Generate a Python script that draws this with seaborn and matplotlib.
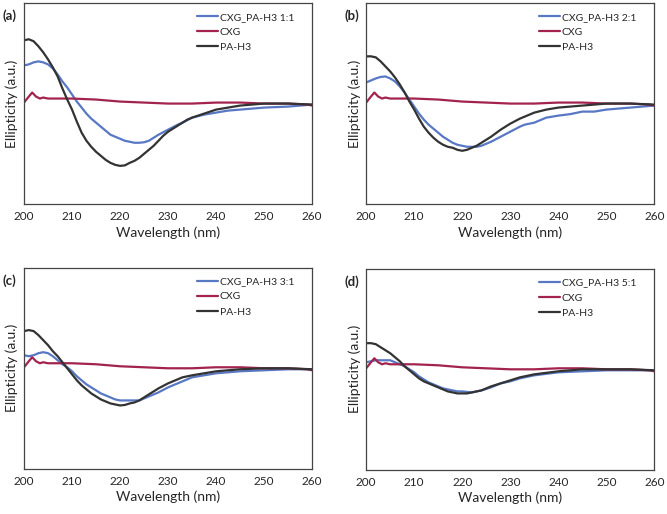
#!/usr/bin/env python3

import pandas as pd
import seaborn as sns
import matplotlib.pyplot as plt

# CD spectra, arbitrary units (0 = baseline)
cxg_nm = [200, 201, 201.7, 202.5, 203.3, 204, 205, 207, 210, 215, 220, 225,
          230, 235, 240, 245, 250, 255, 259, 260]
cxg_val = [1, 7, 11, 7, 5, 6, 5, 5, 5, 4, 2, 1, 0, 0, 1, 1, 0, 0, -1, -2]

wl = [200, 201, 202, 203, 204, 205, 206, 207, 208, 209,
      210, 211, 212, 213, 214, 215, 216, 217, 218, 219,
      220, 221, 222, 223, 224, 225, 226, 227, 228, 229,
      230, 231, 232, 233, 234, 235,
      237.5, 240, 242.5, 245, 247.5, 250, 255, 260]

# panel (a) 1:1
mix_a = [38, 39, 41, 42, 41, 39, 35, 29, 22, 16,
         9, 2, -4, -10, -15, -19, -23, -27, -31, -33,
         -35, -37, -38, -39, -39, -38.5, -37, -34, -31, -28.5,
         -26, -23.5, -21, -19, -16.5, -14,
         -11, -9, -7, -6, -5, -4, -3, -1]
pa_a = [63, 64, 62, 57, 51, 44, 36, 27, 15, 4,
        -6, -18, -29, -37, -43, -48, -52, -56, -59, -61,
        -62, -61.5, -59, -57, -54, -50, -46, -42, -37, -32,
        -28, -25, -22, -19, -16, -14,
        -10, -6, -4, -2, -1, 0, 0, -1]

# panel (b) 2:1
mix_b = [21, 23, 25, 26.5, 27, 25, 22, 17, 11, 4,
         -3, -10, -16, -21, -25, -29, -33, -36, -39, -41,
         -42, -43, -43, -43, -42, -40, -38, -35.5, -33, -30.5,
         -28, -25.5, -23, -21, -20, -19,
         -14, -12, -10.5, -8, -8, -6, -4, -2]
pa_b = [47, 47, 46, 42, 37, 32, 26, 19, 11, 2,
        -6, -15, -23, -29, -34, -38, -41, -43, -44, -46,
        -47, -46, -44, -42, -39, -36, -33, -29.5, -26, -23,
        -20, -17.5, -15, -13, -11, -9,
        -6, -4, -3, -2, -1, 0, 0, -1]

# panel (c) 3:1
mix_c = [13, 12, 13, 15, 16, 15, 12, 8, 4, 1,
         -3, -8, -12, -16, -19, -22, -25, -27, -29, -31,
         -32, -32, -32, -32, -32, -30, -28, -26, -24, -21.5,
         -19, -17, -15, -13, -11, -9,
         -7, -5, -4, -3, -2.5, -2, -1, -1]
pa_c = [37, 38, 37, 33, 28, 23, 17, 12, 6, 0,
        -6, -12, -17, -21, -25, -28, -31, -33, -35, -36,
        -37, -36.5, -35, -34, -32, -29, -26, -23, -20, -17.5,
        -15, -13, -11, -9, -8, -7,
        -5, -3, -2, -1, -0.5, 0, 0, -1]

# panel (d) 5:1
mix_d = [7, 8, 9, 9, 9, 9, 7, 5, 3, 0,
         -3, -7, -10, -13, -15, -17, -19, -20, -21, -22,
         -22, -22.5, -23, -22, -21, -19.5, -18, -16, -14, -13,
         -12, -10.5, -9, -8, -7, -6,
         -4.5, -3, -2.5, -2, -1.5, -1, -1, -1]
pa_d = [26, 26, 25, 22, 19, 16, 12, 8, 3, -1,
        -5, -9, -12, -14, -16, -18, -20, -22, -23, -24,
        -24, -24, -23, -22, -21, -19, -17, -15.5, -14, -12.5,
        -11, -9.5, -8, -7, -6, -5,
        -3.5, -2, -1, 0, 0, 0, 0, -1]

panels = ["a", "b", "c", "d"]
ratios = ["1:1", "2:1", "3:1", "5:1"]
mixes = [mix_a, mix_b, mix_c, mix_d]
pas = [pa_a, pa_b, pa_c, pa_d]

sns.set_style("white")
plt.rcParams['font.family'] = ['Lato', 'DejaVu Sans']

colors = ["#5878c4", "#a3234f", "#333333"]

fig = plt.figure(figsize=(6.67, 5.14), dpi=100)
boxes = [(0.036, 0.603), (0.549, 0.603), (0.036, 0.088), (0.549, 0.086)]

for tag, ratio, mix, pa, (x0, y0) in zip(panels, ratios, mixes, pas, boxes):
    ax = fig.add_axes([x0, y0, 0.432, 0.391])
    name = "CXG_PA-H3 " + ratio
    df = pd.concat([
        pd.DataFrame({"wl": wl, "val": mix, "sample": name}),
        pd.DataFrame({"wl": cxg_nm, "val": cxg_val, "sample": "CXG"}),
        pd.DataFrame({"wl": wl, "val": pa, "sample": "PA-H3"}),
    ])
    sns.lineplot(data=df, x="wl", y="val", hue="sample", palette=colors,
                 linewidth=1.6, ax=ax, sort=False)
    ax.set_xlim(200, 260)
    ax.set_ylim(-100, 100)
    ax.set_xticks(range(200, 261, 10))
    ax.set_yticks([])
    ax.tick_params(axis="x", length=0, labelsize=8.5, pad=5)
    ax.set_xlabel("Wavelength (nm)", fontsize=10, labelpad=3)
    ax.set_ylabel("Ellipticity (a.u.)", fontsize=10, labelpad=4)
    for s in ax.spines.values():
        s.set_color("#444444")
        s.set_linewidth(0.9)
    leg = ax.legend(loc="upper right", frameon=False, fontsize=7.5,
                    handlelength=2.0, handletextpad=0.2, labelspacing=0.55,
                    bbox_to_anchor=(0.97, 1.0))
    for h in leg.get_lines():
        h.set_linewidth(1.6)
    fig.text(x0 - 0.032, y0 + 0.391 - 0.025, "(" + tag + ")",
             fontsize=9.5, fontweight="bold", va="center")

plt.savefig("out.png", dpi=100)
